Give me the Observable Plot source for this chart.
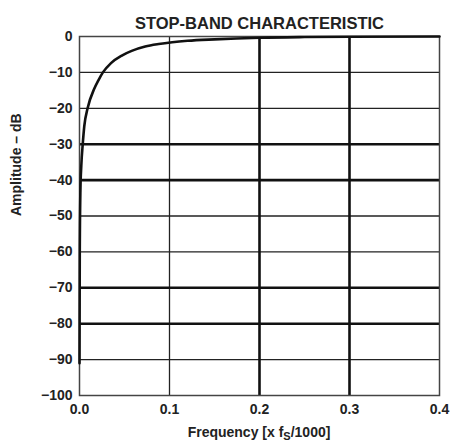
<!DOCTYPE html>
<html>
<head>
<meta charset="utf-8">
<script src="https://cdn.jsdelivr.net/npm/d3@7"></script>
<script src="https://cdn.jsdelivr.net/npm/@observablehq/plot@0.6"></script>
<style>
  html, body { margin: 0; padding: 0; background: #fff; }
  #chart svg { display: block; }
</style>
</head>
<body>
<div id="chart"></div>
<script>
const titleText = "STOP-BAND CHARACTERISTIC";
const yLabel = "Amplitude – dB";
const xLabelMain = "Frequency [x f";
const xLabelSub = "S";
const xLabelEnd = "/1000]";

const freq =      [0, 0.0003, 0.001, 0.002, 0.0036, 0.0053, 0.009, 0.0165, 0.021, 0.026, 0.035, 0.047, 0.058, 0.073, 0.088, 0.103, 0.12, 0.15, 0.2, 0.25, 0.3, 0.4];
const amplitude = [-91, -60, -43, -36, -30, -25, -20, -14.5, -12.2, -10, -7.4, -5.3, -4.0, -2.8, -2.1, -1.6, -1.2, -0.8, -0.35, -0.15, -0.05, 0];

const xTicks = [0, 0.1, 0.2, 0.3, 0.4];
const yTicks = [0, -10, -20, -30, -40, -50, -60, -70, -80, -90, -100];
const thickX = [0.2, 0.3];
const thinX = [0.1];
const thickY = [-30, -40, -70, -80];
const thinY = [-10, -20, -50, -60, -90];

const data = freq.map((f, i) => ({f, a: amplitude[i]}));

const font = "'Liberation Sans', Arial, sans-serif";

const chart = Plot.plot({
  width: 450,
  height: 447,
  marginLeft: 79,
  marginRight: 11,
  marginTop: 36,
  marginBottom: 52,
  style: {fontFamily: font, fontSize: "14px", fontWeight: "bold", color: "#222", background: "#fff"},
  x: {domain: [0, 0.4], ticks: xTicks, tickFormat: d3.format(".1f"), tickSize: 0, tickPadding: 9, label: null},
  y: {domain: [-100, 0], ticks: yTicks, tickSize: 0, tickPadding: 7, label: null},
  marks: [
    Plot.ruleX(thinX, {stroke: "#222", strokeWidth: 1.3}),
    Plot.ruleY(thinY, {stroke: "#222", strokeWidth: 1.3}),
    Plot.ruleX(thickX, {stroke: "#111", strokeWidth: 2.6}),
    Plot.ruleY(thickY, {stroke: "#111", strokeWidth: 2.6}),
    Plot.frame({stroke: "#444", strokeWidth: 1.5}),
    Plot.line(data, {x: "f", y: "a", stroke: "#111", strokeWidth: 2.6, curve: "monotone-x"}),
    Plot.text([titleText], {text: d => d, frameAnchor: "top", dy: -19, fontSize: 16.5, fontWeight: "bold", fill: "#222"}),
    Plot.text([yLabel], {text: d => d, frameAnchor: "left", rotate: -90, dx: -62.5, fontSize: 14, fontWeight: "bold", fill: "#222"})
  ]
});

document.getElementById("chart").appendChild(chart);

// x-axis label with subscript
const svg = d3.select(chart);
const t = svg.append("text")
  .attr("x", 79 + 360 / 2)
  .attr("y", 437)
  .attr("text-anchor", "middle")
  .attr("font-family", font)
  .attr("font-size", 14)
  .attr("font-weight", "bold")
  .attr("fill", "#222");
t.append("tspan").text(xLabelMain);
t.append("tspan").attr("font-size", 11).attr("dy", 3).text(xLabelSub);
t.append("tspan").attr("dy", -3).text(xLabelEnd);
</script>
</body>
</html>
